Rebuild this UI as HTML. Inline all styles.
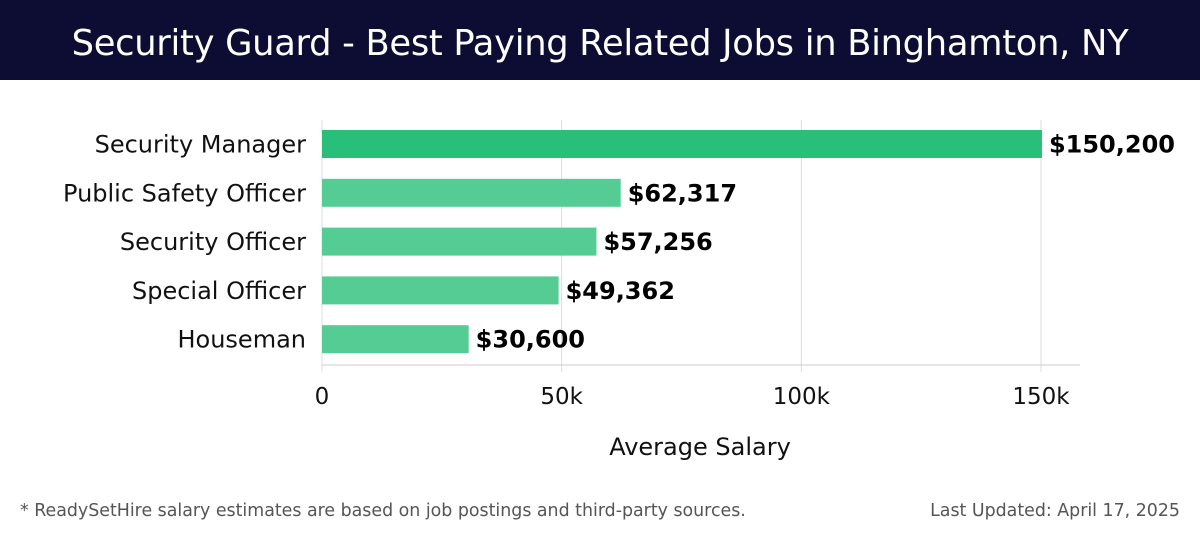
<!DOCTYPE html>
<html><head><meta charset="utf-8"><style>
body{margin:0;width:1200px;height:540px;background:#fff;font-family:"DejaVu Sans","Liberation Sans",sans-serif;overflow:hidden;position:relative}
#hdr{position:absolute;left:0;top:0;width:1200px;height:80px;background:#0d0d33;color:#fff;font-size:35.3px;text-align:center;line-height:88px;letter-spacing:-0.3px}
.foot{position:absolute;top:501px;font-size:17.4px;color:#555}
</style></head><body>
<div id="hdr">Security Guard - Best Paying Related Jobs in Binghamton, NY</div>
<svg id="c" width="1200" height="540" style="position:absolute;left:0;top:0;font-family:'DejaVu Sans',sans-serif"></svg>
<div class="foot" style="left:20px">* ReadySetHire salary estimates are based on job postings and third-party sources.</div>
<div class="foot" style="right:20px">Last Updated: April 17, 2025</div>
<script>
const categories=["Security Manager","Public Safety Officer","Security Officer","Special Officer","Houseman"];
const values=[150200,62317,57256,49362,30600];
const labels=["$150,200","$62,317","$57,256","$49,362","$30,600"];
const ticks=[0,50000,100000,150000];
const tickLabels=["0","50k","100k","150k"];
const svg=document.getElementById('c');const NS="http://www.w3.org/2000/svg";
const x=v=>322+v*(1041-322)/150000;
const y=i=>144+i*48.8;
function mk(t,a,txt){const e=document.createElementNS(NS,t);for(const k in a)e.setAttribute(k,a[k]);if(txt!=null)e.textContent=txt;svg.appendChild(e);return e;}
ticks.forEach((t,i)=>{
const g=mk('line',{x1:x(t),x2:x(t),y1:120,y2:372,stroke:'#ddd','stroke-width':1});


const l=mk('text',{x:x(t),y:404,'text-anchor':'middle','font-size':23,fill:'#111'},tickLabels[i]);


});
const ax=mk('line',{x1:322,x2:1080,y1:365,y2:365,stroke:'#ccc'});


categories.forEach((c,i)=>{
const b=mk('rect',{x:x(0),y:y(i)-14,width:x(values[i])-x(0),height:28,fill:i==0?'#2abf78':'#55cc94'});


const t=mk('text',{x:306,y:y(i)+8.5,'text-anchor':'end','font-size':24,fill:'#111'},c);


const v=mk('text',{x:x(values[i])+7,y:y(i)+8.5,'font-size':24,'font-weight':'bold',fill:'#000'},labels[i]);


});
const xt=mk('text',{x:700,y:455,'text-anchor':'middle','font-size':24,fill:'#111'},'Average Salary');


</script>
</body></html>
